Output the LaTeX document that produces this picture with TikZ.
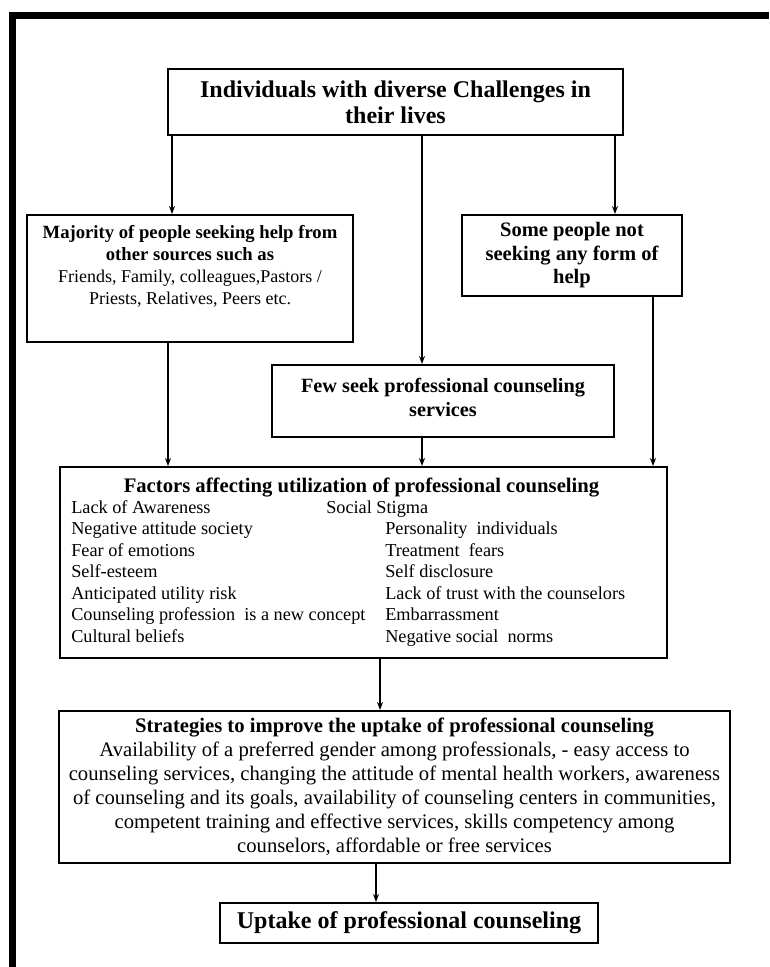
\documentclass[tikz,border=0pt]{standalone}
\usepackage{fontspec}
\setmainfont{Liberation Serif}
\usetikzlibrary{arrows.meta, positioning}

\begin{document}
\begin{tikzpicture}[
            x=0.75pt, y=-0.75pt,
            every node/.style={inner sep=0pt},
            box/.style={
                rectangle,
                draw,
                line width=1.5pt,
                align=center
            },
            head/.style={font=\fontsize{15.5}{18}\selectfont\bfseries, align=center},
            item/.style={font=\fontsize{13.7}{16.1}\selectfont, align=left},
            arrow/.style={-{Stealth[length=6pt, width=4.5pt]}, line width=1.1pt}
        ]

        % Frame
        \useasboundingbox (0,0) rectangle (769,967);
        \draw[line width=5.25pt] (769,15.5) -- (12.5,15.5) -- (12.5,967);

        % Nodes
        \node[box, font=\fontsize{18}{19.5}\selectfont\bfseries, minimum width=341.25pt, minimum height=49.5pt] (top) at (395.5,102)
            {Individuals with diverse Challenges in\\their lives};
        \node[box, minimum width=244.5pt, minimum height=95.25pt] (major) at (190,278.5) {};
        \node[align=center, font=\fontsize{13.5}{16.5}\selectfont] (majorT) at (190,266)
            {{\fontsize{14}{16.5}\selectfont\bfseries Majority of people seeking help from}\\
             {\fontsize{14}{16.5}\selectfont\bfseries other sources such as}\\
             Friends, Family, colleagues,Pastors /\\
             Priests, Relatives, Peers etc.};
        \node[box, font=\fontsize{15.4}{17.6}\selectfont\bfseries, minimum width=165pt, minimum height=60.75pt] (some) at (572,255.5)
            {Some people not\\seeking any form of\\help};
        \node[box, font=\fontsize{15.2}{18}\selectfont\bfseries, minimum width=256.5pt, minimum height=54pt] (few) at (443,401)
            {Few seek professional counseling\\services\\[-12pt]};
        \node[box, minimum width=455.25pt, minimum height=143.25pt] (factors) at (363.5,562.5) {};
        \node[head] (factT) at (361.5,487) {Factors affecting utilization of professional counseling};
        \node[item, anchor=west] (factList) at (71,573.5)
            {\begin{tabular}{@{}p{235.5pt}@{}l@{}}
             Lack of Awareness & \hspace*{-44.25pt}Social Stigma\\
             Negative attitude society & Personality\ \ individuals\\
             Fear of emotions & Treatment\ \ fears\\
             Self-esteem & Self disclosure\\
             Anticipated utility risk & Lack of trust with the counselors\\
             Counseling profession\ \ is a new concept & Embarrassment\\
             Cultural beliefs & Negative social\ \ norms
             \end{tabular}};
        \node[box, font=\fontsize{15.5}{18}\selectfont, minimum width=503.25pt, minimum height=114pt] (strat) at (394.5,787)
            {\textbf{Strategies to improve the uptake of professional counseling}\\
             Availability of a preferred gender among professionals, - easy access to\\
             counseling services, changing the attitude of mental health workers, awareness\\
             of counseling and its goals, availability of counseling centers in communities,\\
             competent training and effective services, skills competency among\\
             counselors, affordable or free services};
        \node[box, font=\fontsize{18}{20}\selectfont\bfseries, minimum width=283.5pt, minimum height=30pt] (uptake) at (409,923)
            {Uptake of professional counseling};

        % Arrows
        \draw[arrow] ([xshift=-13.5pt]major.north |- top.south) -- ([xshift=-13.5pt]major.north);
        \draw[arrow] ([xshift=-15.75pt]few.north |- top.south) -- ([xshift=-15.75pt]few.north);
        \draw[arrow] ([xshift=32.25pt]some.north |- top.south) -- ([xshift=32.25pt]some.north);
        \draw[arrow] ([xshift=-16.5pt]major.south) -- ([xshift=-16.5pt]major.south |- factors.north);
        \draw[arrow] ([xshift=-15.75pt]few.south) -- ([xshift=-15.75pt]few.south |- factors.north);
        \draw[arrow] ([xshift=60.75pt]some.south) -- ([xshift=60.75pt]some.south |- factors.north);
        \draw[arrow] ([xshift=12.4pt]factors.south) -- ([xshift=12.4pt]factors.south |- strat.north);
        \draw[arrow] ([xshift=-24.75pt]uptake.north |- strat.south) -- ([xshift=-24.75pt]uptake.north);

        \end{tikzpicture}
\end{document}
